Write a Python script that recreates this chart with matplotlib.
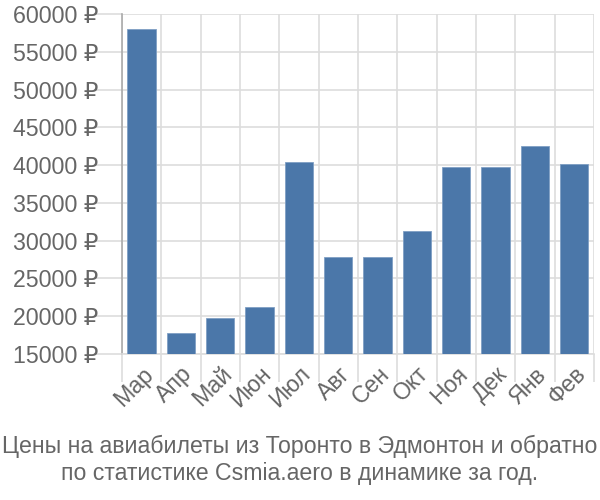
import matplotlib
matplotlib.use("Agg")
import matplotlib.pyplot as plt
import numpy as np

plt.rcParams['font.family'] = ['Liberation Sans', 'DejaVu Sans']

months = ["Мар", "Апр", "Май", "Июн", "Июл", "Авг", "Сен", "Окт", "Ноя", "Дек", "Янв", "Фев"]
prices = [58000, 17800, 19750, 21200, 40400, 27800, 27800, 31300, 39750, 39750, 42500, 40200]
yticks = list(range(15000, 60001, 5000))
title = "Цены на авиабилеты из Торонто в Эдмонтон и обратно\nпо статистике Csmia.aero в динамике за год."

fig = plt.figure(figsize=(6, 5), dpi=100)
ax = fig.add_axes([0.203, 0.292, 0.787, 0.68])

x = np.arange(len(months))
ax.bar(x, np.array(prices) - 15000, bottom=15000, width=0.72, color="#4b77a9",
       edgecolor="#7f9fc4", linewidth=0.6, zorder=3)

ax.set_xlim(-0.5, len(months) - 0.5)
ax.set_ylim(15000, 60000)
ax.set_yticks(yticks)
ax.set_yticklabels([f"{v} ₽" for v in yticks], fontsize=16.7, color="#666666")
ax.set_xticks(x)
ax.set_xticklabels(months, rotation=45, ha="right", va="top", rotation_mode="anchor",
                   fontsize=16.7, color="#666666")
ax.set_xticks(np.arange(-0.5, len(months), 1), minor=True)
ax.tick_params(axis="x", which="major", length=0, pad=6)
ax.tick_params(axis="x", which="minor", length=20, color="#dddddd", width=1.2)
ax.tick_params(axis="y", length=20, color="#dddddd", width=1.2, pad=-3)

ax.grid(True, axis="y", color="#dddddd", linewidth=1.2, zorder=0)
ax.grid(True, axis="x", which="minor", color="#dddddd", linewidth=1.2, zorder=0)

for s in ["top", "right"]:
    ax.spines[s].set_visible(False)
ax.spines["left"].set_color("#aaaaaa")
ax.spines["left"].set_linewidth(1.2)
ax.spines["bottom"].set_color("#dddddd")
ax.spines["bottom"].set_linewidth(1.2)

fig.text(0.5, 0.03, title, ha="center", va="bottom", fontsize=16.7, color="#666666",
         linespacing=1.2)

fig.savefig("out.png", dpi=100)
